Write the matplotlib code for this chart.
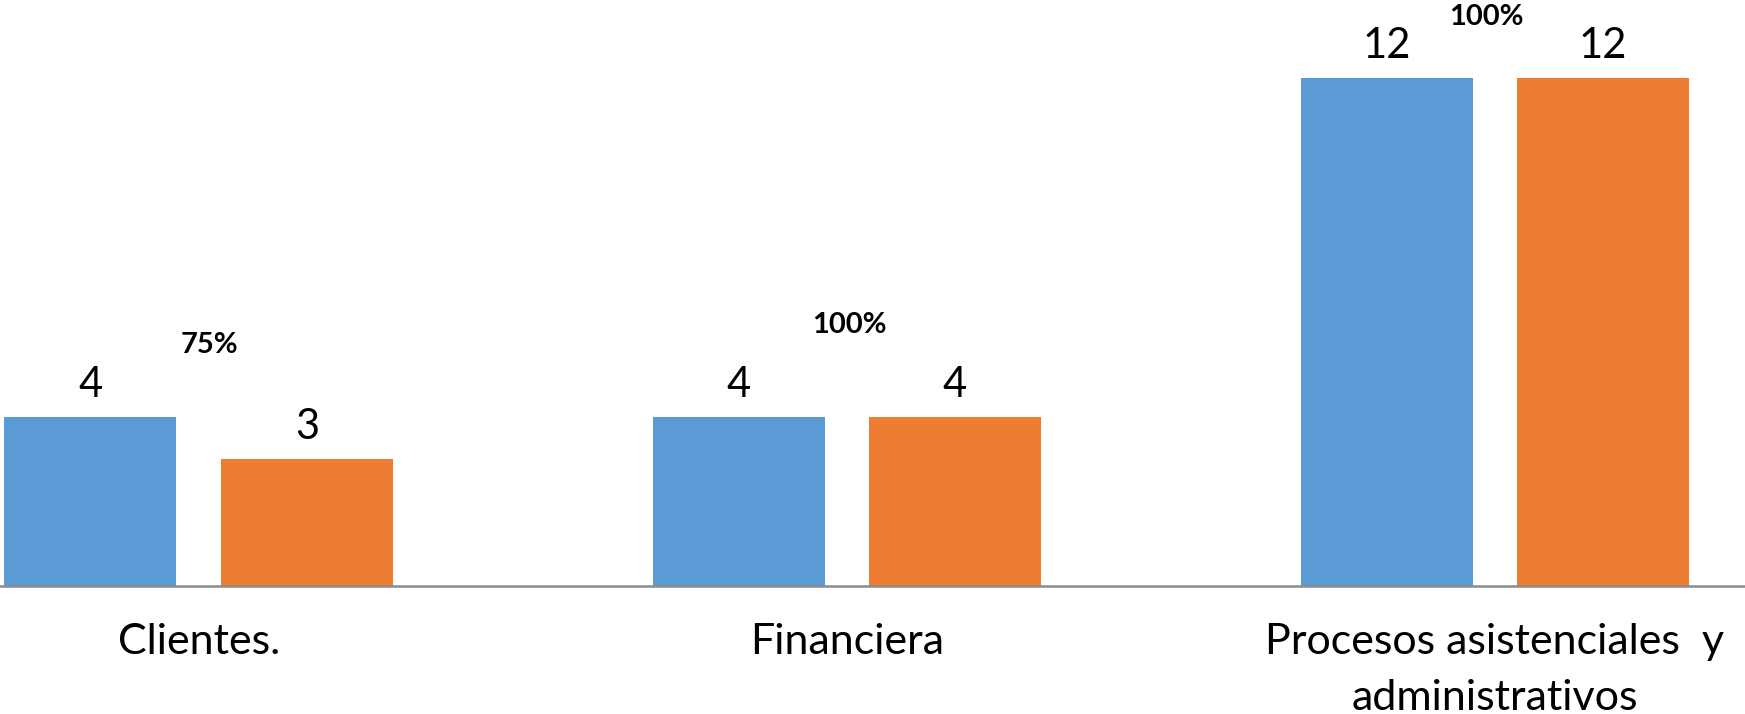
import matplotlib.pyplot as plt
import numpy as np

categories = ['Clientes.', 'Financiera', 'Procesos asistenciales  y\nadministrativos']
planned = [4, 4, 12]
achieved = [3, 4, 12]
percent_labels = ['75%', '100%', '100%']

plt.rcParams['font.family'] = ['Lato', 'DejaVu Sans']

fig = plt.figure(figsize=(17.45, 7.14), dpi=100)
ax = fig.add_axes([0, 0.1793, 1, 0.8207])

x = np.arange(len(categories))
width = 0.2654
off = 0.167
b1 = ax.bar(x - off, planned, width, color='#5B9BD5')
b2 = ax.bar(x + off, achieved, width, color='#ED7D31')

for bars in (b1, b2):
    for rect in bars:
        ax.annotate(f'{int(rect.get_height())}',
                    (rect.get_x() + rect.get_width() / 2, rect.get_height()),
                    xytext=(0, 14.5), textcoords='offset points',
                    ha='center', va='baseline', fontsize=30, color='black')

# percentage labels, hand placed above each group
pct_dy = [46, 60, 38]
pct_dx = [8, 2, -6]
for i, lbl in enumerate(percent_labels):
    top = max(planned[i], achieved[i])
    ax.annotate(lbl, (x[i], top), xytext=(pct_dx[i], pct_dy[i]),
                textcoords='offset points', ha='center', va='baseline',
                fontsize=21, fontweight='bold', color='black')

ax.set_xlim(-0.3066, 2.386)
ax.set_ylim(0, 13.85)

for s in ['top', 'right', 'left']:
    ax.spines[s].set_visible(False)
ax.spines['bottom'].set_color('#8c8c8c')
ax.spines['bottom'].set_linewidth(1.8)
ax.set_yticks([])
ax.set_xticks(x)
ax.set_xticklabels(categories, fontsize=31, linespacing=1.55)
ax.tick_params(axis='x', length=0, pad=27)

fig.savefig('out.png', dpi=100)
